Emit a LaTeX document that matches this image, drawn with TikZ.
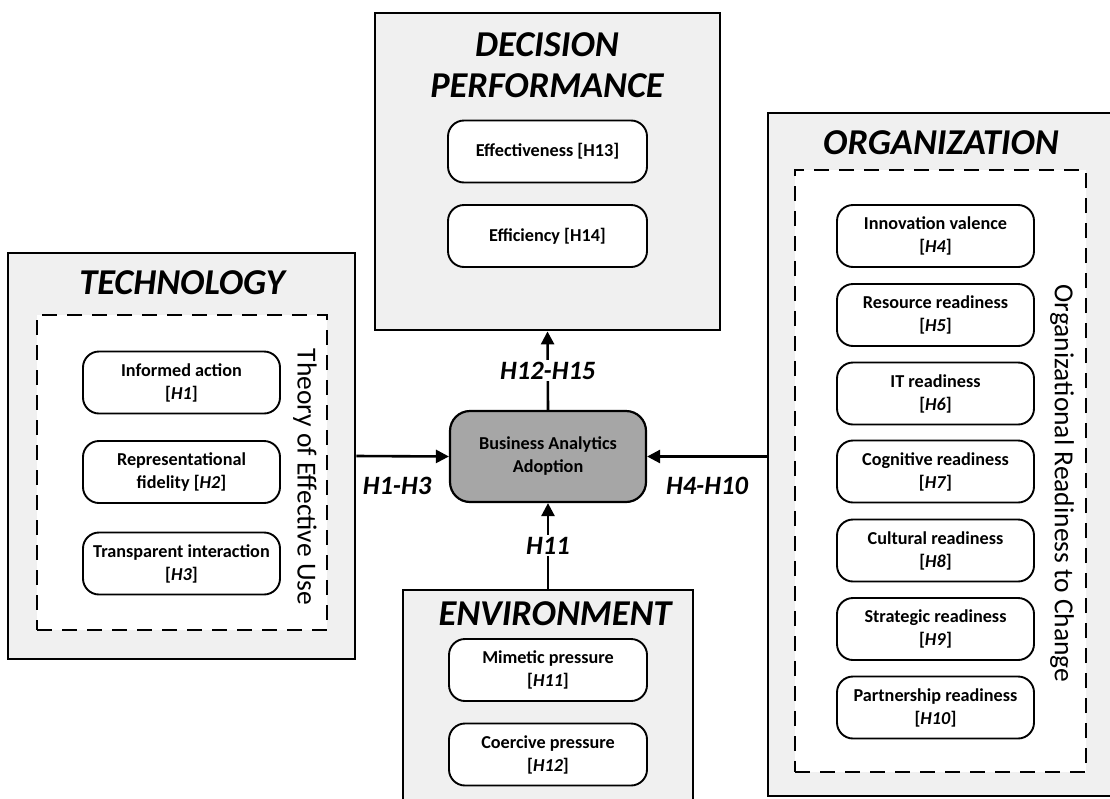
\documentclass[tikz,border=0pt]{standalone}
\usepackage{fontspec}
\setmainfont{Carlito}
\usetikzlibrary{arrows.meta}
\definecolor{outerfill}{HTML}{F0F0F0}
\definecolor{corefill}{HTML}{A6A6A6}
\tikzset{
  outerbox/.style={draw=black, line width=2.8pt, fill=outerfill, inner sep=0pt},
  dashbox/.style={draw=black, line width=1.9pt, fill=white, dash pattern=on 15pt off 10pt},
  itembox/.style={draw=black, line width=1.9pt, fill=white, rounded corners=16pt,
     minimum width=197pt, minimum height=62pt, align=center, inner sep=2pt,
     font=\fontsize{18.2}{23}\selectfont\bfseries},
  corebox/.style={draw=black, line width=2.2pt, fill=corefill, rounded corners=20pt,
     minimum width=196pt, minimum height=91pt, align=center,
     font=\fontsize{18.2}{23}\selectfont\bfseries},
  titletext/.style={font=\fontsize{36.4}{40}\selectfont\bfseries\itshape, align=center, inner sep=0pt},
  sidetext/.style={font=\fontsize{27.5}{30}\selectfont, rotate=-90, inner sep=0pt},
  hlabel/.style={font=\fontsize{26.5}{30}\selectfont\bfseries\itshape, inner sep=2pt},
  arr/.style={line width=2.6pt, -{Triangle[length=13pt,width=13pt]}},
}
\begin{document}
\begin{tikzpicture}[x=1pt,y=-1pt]
\useasboundingbox (0,0) rectangle (1110,798);
\clip (0,0) rectangle (1110,798);

% outer boxes
\node[outerbox, minimum width=347pt, minimum height=406pt] (tech) at (181.5,456) {};
\node[outerbox, minimum width=345pt, minimum height=317pt] (dec) at (547.5,171.5) {};
\node[outerbox, minimum width=346pt, minimum height=683pt] (org) at (941,454.5) {};
\node[outerbox, minimum width=290pt, minimum height=230pt] (env) at (548,705) {};

% dashed inner frames
\node[dashbox, minimum width=290pt, minimum height=315pt, inner sep=0pt] (teu) at (182,472.5) {};
\node[dashbox, minimum width=291pt, minimum height=602pt, inner sep=0pt] (orc) at (940.5,471) {};

% titles
\node[titletext] (techT) at (182,283) {TECHNOLOGY};
\node[titletext] (decT1) at (547,45) {DECISION};
\node[titletext] (decT2) at (547,86) {PERFORMANCE};
\node[titletext] (orgT) at (941,143) {ORGANIZATION};
\node[titletext] (envT) at (555,614) {ENVIRONMENT};

% side texts
\node[sidetext] (teuT) at (305,477) {Theory of Effective Use};
\node[sidetext] (orcT) at (1062,483.5) {Organizational Readiness to Change};

% technology items
\node[itembox] (h1) at (181.5,382.5) {Informed action\\{[}\textit{H1}{]}};
\node[itembox] (h2) at (181.5,472) {Representational\\fidelity {[}\textit{H2}{]}};
\node[itembox] (h3) at (181.5,563.5) {Transparent interaction\\{[}\textit{H3}{]}};

% decision items
\node[itembox, minimum width=199pt] (h13) at (547.5,151.5) {Effectiveness [H13]};
\node[itembox, minimum width=199pt] (h14) at (547.5,236) {Efficiency [H14]};

% organization items
\node[itembox] (h4) at (935.5,236) {Innovation valence\\{[}\textit{H4}{]}};
\node[itembox] (h5) at (935.5,315) {Resource readiness\\{[}\textit{H5}{]}};
\node[itembox] (h6) at (935.5,393.5) {IT readiness\\{[}\textit{H6}{]}};
\node[itembox] (h7) at (935.5,471.5) {Cognitive readiness\\{[}\textit{H7}{]}};
\node[itembox] (h8) at (935.5,550.5) {Cultural readiness\\{[}\textit{H8}{]}};
\node[itembox] (h9) at (935.5,629) {Strategic readiness\\{[}\textit{H9}{]}};
\node[itembox] (h10) at (935.5,707.5) {Partnership readiness\\{[}\textit{H10}{]}};

% environment items
\node[itembox, minimum width=198pt] (h11) at (548,670) {Mimetic pressure\\{[}\textit{H11}{]}};
\node[itembox, minimum width=198pt] (h12) at (548,754.5) {Coercive pressure\\{[}\textit{H12}{]}};

% core
\node[corebox] (cba) at (548,456.5) {Business Analytics\\Adoption};

% connectors
\draw[arr] (tech.east) -- (cba.west);
\draw[arr] (org.west |- cba.east) -- (cba.east);
\draw[arr] (cba.north) -- node[hlabel, fill=white] (lup) {H12-H15} (dec.south);
\draw[arr] (env.north) -- node[hlabel, fill=white] (ldown) {H11} (cba.south);

\node[hlabel] (lleft) at (397,486) {H1-H3};
\node[hlabel] (lright) at (707,486) {H4-H10};
\end{tikzpicture}
\end{document}
